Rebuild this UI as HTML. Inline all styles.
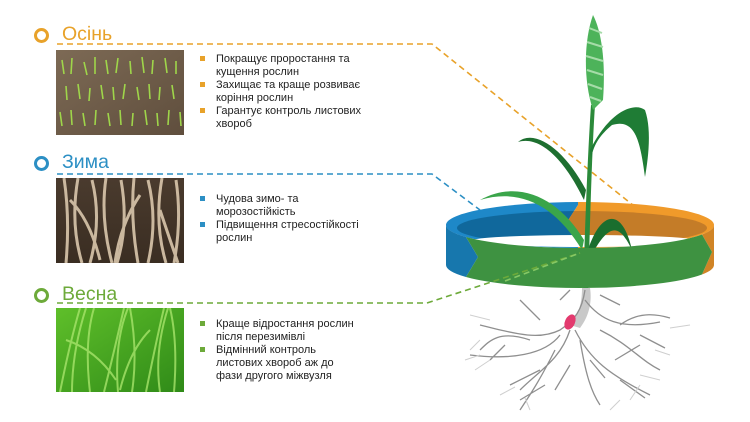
<!DOCTYPE html>
<html><head><meta charset="utf-8"><style>
body{margin:0;width:750px;height:422px;background:#fff;overflow:hidden;position:relative;font-family:"Liberation Sans",sans-serif}
.t{position:absolute;font-size:19.5px;line-height:24px}
.c{position:absolute;width:9px;height:9px;border-radius:50%;border:3px solid}
ul{position:absolute;margin:0;padding:0;list-style:none;font-size:11px;line-height:13px;color:#222;left:216px}
li{position:relative}
li:before{content:"";position:absolute;left:-16px;top:3px;width:5px;height:5px}
.o li:before{background:#E8A22A}.b li:before{background:#2C8FC4}.g li:before{background:#6DAA3A}
</style></head><body>
<svg width="750" height="422" style="position:absolute;left:0;top:0">
<defs>
<linearGradient id="soil" x1="0" y1="0" x2="1" y2="1"><stop offset="0" stop-color="#7d6a55"/><stop offset="1" stop-color="#5f4e3d"/></linearGradient>
<linearGradient id="win" x1="0" y1="0" x2="0" y2="1"><stop offset="0" stop-color="#4a3b2e"/><stop offset="1" stop-color="#3a2d22"/></linearGradient>
<linearGradient id="spr" x1="0" y1="0" x2="1" y2="1"><stop offset="0" stop-color="#5fbf2a"/><stop offset="1" stop-color="#2f8a18"/></linearGradient>
<clipPath id="c1"><rect x="56" y="50" width="128" height="85"/></clipPath>
<clipPath id="c2"><rect x="56" y="178" width="128" height="85"/></clipPath>
<clipPath id="c3"><rect x="56" y="308" width="128" height="84"/></clipPath>
<clipPath id="cb"><polygon points="0,0 578,0 578,205 567,222 578,242 578,422 0,422"/></clipPath>
<clipPath id="co"><polygon points="578,0 750,0 750,422 578,422 578,242 567,222 578,205"/></clipPath>
</defs>
<!-- images -->
<rect x="56" y="50" width="128" height="85" fill="url(#soil)"/>
<g clip-path="url(#c1)" stroke="#9fd64a" stroke-width="1.6">
<path d="M62 60l2 14M72 58l-1 16M84 62l3 13M95 57l0 17M106 60l2 14M118 58l-2 15M130 61l1 13M142 57l2 16M153 60l-1 14M165 58l2 15M176 61l0 13M66 86l1 14M78 84l2 15M90 88l-1 13M101 85l2 14M113 87l1 13M125 84l-2 15M137 87l2 13M149 84l1 15M160 87l-1 13M172 85l2 14M60 112l2 14M71 110l1 15M83 113l2 13M96 110l-1 15M108 113l2 13M120 110l1 15M133 113l-1 13M145 110l2 15M157 113l1 13M169 110l-1 15M180 112l1 14" />
</g>
<rect x="56" y="178" width="128" height="85" fill="url(#win)"/>
<g clip-path="url(#c2)" stroke="#d9c6ac" stroke-width="3" fill="none" opacity=".9">
<path d="M64 178q6 40 2 85M78 178q-8 45 4 85M92 180q10 40 -2 83M106 178q-6 40 6 85M121 180q8 45 -4 83M134 178q-4 40 4 85M148 180q10 40 0 83M162 178q-8 45 4 85M176 180q6 40 -2 83M70 200q20 20 30 60M140 195q-20 30 -25 68M160 210q10 30 18 53"/>
</g>
<rect x="56" y="308" width="128" height="84" fill="url(#spr)"/>
<g clip-path="url(#c3)" stroke="#a6e36a" stroke-width="2" fill="none" opacity=".8">
<path d="M60 392q10-50 20-84M72 392q0-40 14-84M90 392q-6-50 4-84M104 392q10-40 20-84M118 392q-4-50 10-84M132 392q6-40 -2-84M146 392q10-50 18-84M160 392q-6-40 8-84M174 392q4-50 -4-84M66 340q30 10 50 40M150 330q-20 20 -30 60"/>
</g>
<!-- dashed connectors -->
<g fill="none" stroke-width="1.6" stroke-dasharray="6,4">
<path d="M57 44H432L634 206" stroke="#E8A22A"/>
<path d="M57 174H432L480 210" stroke="#2C8FC4"/>
</g>
<!-- ring top/back -->
<g clip-path="url(#cb)">
<ellipse cx="580" cy="225" rx="134" ry="23" fill="#1E88C8"/>
<ellipse cx="582" cy="228" rx="125" ry="17" fill="#10689c"/>
</g>
<g clip-path="url(#co)">
<ellipse cx="580" cy="225" rx="134" ry="23" fill="#F09A2A"/>
<ellipse cx="582" cy="228" rx="125" ry="17" fill="#C47C28"/>
</g>
<ellipse cx="584" cy="241" rx="114" ry="6" fill="#fff"/>
<!-- plant -->
<g>
<path d="M583 300C585 220 588 150 591 105L595 105C592 150 590 220 588 300Z" fill="#2b8a3a"/>
<path d="M586 190C565 150 535 128 518 142C540 135 565 160 584 200Z" fill="#1e6f30"/>
<path d="M590 150C610 110 635 102 645 110C652 130 648 160 645 177C640 140 635 118 612 125C600 135 593 145 591 160Z" fill="#1f7c35"/>
<path d="M584 240C560 200 520 178 480 200C520 188 555 205 582 250Z" fill="#3aa54a"/>
<path d="M588 250C600 212 622 205 632 250C620 225 610 220 590 258Z" fill="#1a6e2e"/>
<path d="M593 15C601 30 606 60 603 100L593 110C583 80 584 40 593 15Z" fill="#4db35a"/>
<path d="M589 28l13 5M587 42l16 5M586 56l17 5M587 70l16 5M588 84l14 5M590 97l11 4" stroke="#a6dca8" stroke-width="2"/>
</g>
<!-- ring front -->
<path d="M446 225V265A134 23 0 0 0 466 277L478 257L466 237A134 23 0 0 1 446 225Z" fill="#1777AD"/>
<path d="M714 225V265A134 23 0 0 1 702 274.5L712 252L702 234.5A134 23 0 0 0 714 225Z" fill="#D08426"/>
<path d="M466 237A134 23 0 0 0 702 234.5L712 252L702 274.5A134 23 0 0 1 466 277L478 257Z" fill="#3E9241"/>
<path d="M57 303H427L580 253" fill="none" stroke="#6DAA3A" stroke-width="1.6" stroke-dasharray="6,4"/>
<path d="M505 281L580 253" fill="none" stroke="#86c865" stroke-width="1.6" stroke-dasharray="6,4"/>
<!-- roots -->
<path d="M582 288C582 305 578 315 570 325L580 328C590 315 592 300 590 288Z" fill="#c9c9c9"/>
<g fill="none" stroke="#8f8f8f" stroke-width="1.3">
<path d="M585 290C582 310 575 320 560 330C540 340 520 335 480 325M585 300C600 320 620 330 660 322M570 330C560 360 540 370 520 390M575 330C590 360 610 375 650 395M560 335C545 355 510 360 470 355M600 330C630 345 640 360 660 370M555 350C540 380 530 395 520 410M580 340C585 370 590 390 600 405M530 340C500 330 490 340 480 350M620 325C640 310 660 315 670 318M540 370L510 385M615 360L640 345M520 300L540 320M600 295L620 305M560 300L570 290M545 385L520 400M620 380L645 398M505 345L490 360M640 335L665 348M590 360L605 378M570 365L555 390"/>
</g>
<g fill="none" stroke="#cfcfcf" stroke-width="1">
<path d="M470 315l20 5M490 360l-15 10M655 350l15 5M500 395l15-8M630 400l10-15M660 380l-20-5M480 340l-10 10M690 325l-20 3M465 360l15-5M610 410l10-10M530 410l-5-12"/>
</g>
<ellipse cx="570" cy="322" rx="5" ry="8" transform="rotate(25 570 322)" fill="#e33a6e"/>
</svg>
<div class="c" style="left:34px;top:28px;border-color:#E8A22A"></div>
<div class="t" style="left:62px;top:22px;color:#E8A22A">Осінь</div>
<div class="c" style="left:34px;top:156px;border-color:#2C8FC4"></div>
<div class="t" style="left:62px;top:150px;color:#2C8FC4">Зима</div>
<div class="c" style="left:34px;top:288px;border-color:#6DAA3A"></div>
<div class="t" style="left:62px;top:282px;color:#6DAA3A">Весна</div>
<ul class="o" style="top:53px"><li>Покращує проростання та<br>кущення рослин</li><li>Захищає та краще розвиває<br>коріння рослин</li><li>Гарантує контроль листових<br>хвороб</li></ul>
<ul class="b" style="top:193px"><li>Чудова зимо- та<br>морозостійкість</li><li>Підвищення стресостійкості<br>рослин</li></ul>
<ul class="g" style="top:318px"><li>Краще відростання рослин<br>після перезимівлі</li><li>Відмінний контроль<br>листових хвороб аж до<br>фази другого міжвузля</li></ul>
</body></html>
